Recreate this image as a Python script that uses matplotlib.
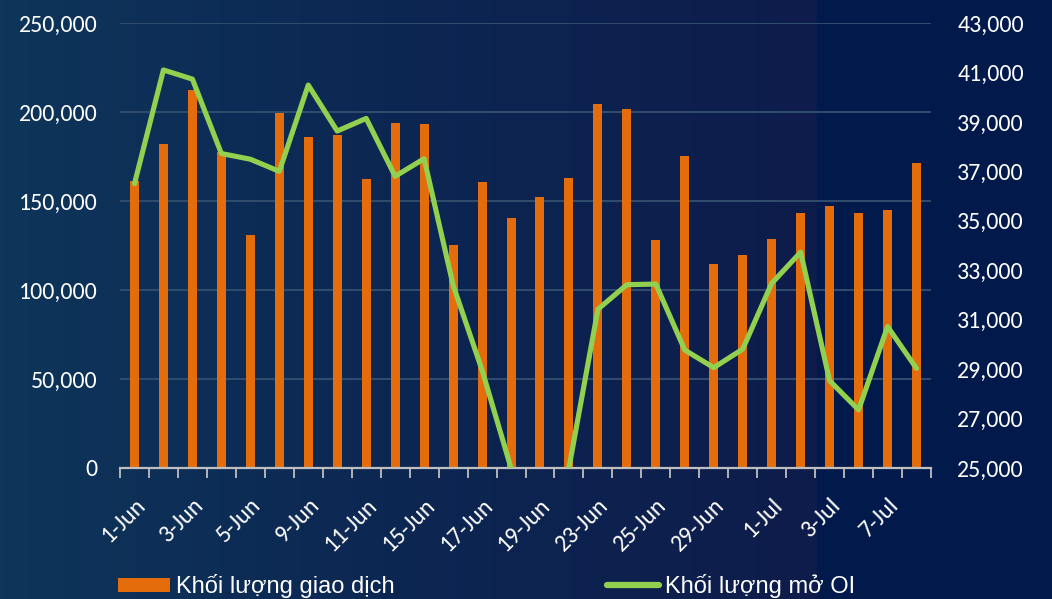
import numpy as np
import matplotlib
matplotlib.use('Agg')
import matplotlib.pyplot as plt
from matplotlib.colors import LinearSegmentedColormap
from matplotlib.ticker import FuncFormatter, FixedLocator
from matplotlib.lines import Line2D
from matplotlib.patches import Patch

# data
dates = ['1-Jun', '2-Jun', '3-Jun', '4-Jun', '5-Jun', '8-Jun', '9-Jun', '10-Jun', '11-Jun', '12-Jun',
         '15-Jun', '16-Jun', '17-Jun', '18-Jun', '19-Jun', '22-Jun', '23-Jun', '24-Jun', '25-Jun', '26-Jun',
         '29-Jun', '30-Jun', '1-Jul', '2-Jul', '3-Jul', '6-Jul', '7-Jul', '8-Jul']
volume = [161200, 181800, 212200, 177300, 131100, 199400, 186000, 187300, 162200, 193600,
          193500, 125300, 160700, 140400, 152100, 163100, 204300, 201700, 128300, 175100,
          114600, 119700, 128500, 143300, 147400, 143100, 145100, 171300]
open_interest = [36500, 41100, 40730, 37720, 37490, 37000, 40490, 38630, 39140, 36800,
                 37510, 32400, 28960, 25000, np.nan, 25000, 31420, 32415, 32440, 29770,
                 29060, 29810, 32470, 33730, 28530, 27350, 30720, 29030]
vol_label = 'Khối lượng giao dịch'
oi_label = 'Khối lượng mở OI'

plt.rcParams['font.family'] = ['Carlito', 'Open Sans', 'DejaVu Sans']

W, H = 1052, 599
fig = plt.figure(figsize=(W / 100, H / 100), dpi=100)

# background gradient
bg = fig.add_axes([0, 0, 1, 1], zorder=-10)
cmap = LinearSegmentedColormap.from_list('bg', ['#0e355a', '#0c2652', '#0e1c4b'])
grad = np.linspace(0, 1, 256).reshape(1, -1)
bg.imshow(grad, aspect='auto', cmap=cmap, extent=[0, 817, 0, H])
bg.fill_between([817, W], 0, H, color='#011a4b')
bg.set_xlim(0, W)
bg.set_ylim(0, H)
bg.axis('off')

left, right, top, bottom = 120, 931, 23, 468
ax = fig.add_axes([left / W, (H - bottom) / H, (right - left) / W, (bottom - top) / H])
ax.patch.set_alpha(0)

x = np.arange(len(dates))
orange = '#e46c0a'
green = '#92d050'
txt = '#ffffff'

ax.bar(x, volume, width=0.31, color=orange, zorder=2)
ax.set_xlim(-0.5, len(dates) - 0.5)
ax.set_ylim(0, 250000)
ax.set_yticks(np.arange(0, 250001, 50000))
ax.yaxis.set_major_formatter(FuncFormatter(lambda v, p: f'{int(v):,}'))
ax.grid(axis='y', color='#34506f', linewidth=1.3, zorder=0)
ax.set_axisbelow(True)

ax.set_xticks(x[::2])
ax.set_xticklabels(dates[::2], rotation=45, ha='right', rotation_mode='anchor')
ax.xaxis.set_minor_locator(FixedLocator(np.arange(-0.5, len(dates), 1)))
ax.tick_params(axis='x', which='major', length=0, pad=19, labelsize=17.2, labelcolor=txt)
ax.tick_params(axis='x', which='minor', length=7, width=1.3, color='#bfbfbf')
ax.tick_params(axis='y', length=0, pad=16, labelsize=17.2, labelcolor=txt)

for s in ['top', 'left', 'right']:
    ax.spines[s].set_visible(False)
ax.spines['bottom'].set_color('#bfbfbf')
ax.spines['bottom'].set_linewidth(1.6)
ax.spines['bottom'].set_zorder(3)

ax2 = ax.twinx()
ax2.plot(x, open_interest, color=green, linewidth=3.7, solid_joinstyle='round',
         solid_capstyle='round', zorder=4)
ax2.set_ylim(25000, 43000)
ax2.set_yticks(np.arange(25000, 43001, 2000))
ax2.yaxis.set_major_formatter(FuncFormatter(lambda v, p: f'{int(v):,}'))
ax2.tick_params(axis='y', length=0, pad=19, labelsize=17.2, labelcolor=txt)
for s in ax2.spines.values():
    s.set_visible(False)

handles = [Patch(facecolor=orange, edgecolor='none'),
           Line2D([0], [0], color=green, linewidth=4.5, solid_capstyle='round')]
fig.legend(handles, [vol_label, oi_label], loc='center left',
           bbox_to_anchor=(118 / W, 1 - 586 / H), ncol=2, frameon=False,
           prop={'family': 'Liberation Sans', 'size': 17}, labelcolor=txt,
           handlelength=2.2, handleheight=0.55, handletextpad=0.25, columnspacing=9.0,
           borderaxespad=0, borderpad=0)

fig.savefig('out.png', dpi=100)
